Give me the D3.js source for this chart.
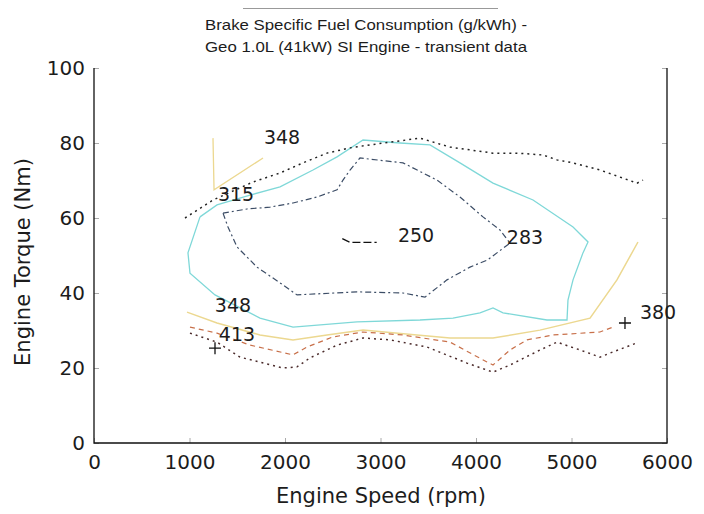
<!DOCTYPE html>
<html><head><meta charset="utf-8">
<script src="https://cdn.jsdelivr.net/npm/d3@7"></script>
<style>body{margin:0;background:#fff}svg{display:block}</style>
</head><body><svg id="c" width="704" height="514"></svg>
<script>
// ---- data (rpm, Nm) ----
const titleLines = ["Brake Specific Fuel Consumption (g/kWh) -", "Geo 1.0L (41kW) SI Engine - transient data"];
const xTicks = [0, 1000, 2000, 3000, 4000, 5000, 6000];
const yTicks = [0, 20, 40, 60, 80, 100];
const c250 = [[2600,54.5],[2680,53.5],[2960,53.5]];
const c283 = [[1351,61.3],[1403,57.6],[1497,52.3],[1707,46.9],[1948,42.7],[2126,39.5],[2754,40.3],[3236,40],[3466,38.9],[3696,43.5],[3937,46.9],[4120,48.8],[4356,53.3],[4251,56.8],[4073,60.3],[3832,65.6],[3592,70.1],[3236,74.7],[2785,76],[2681,72.8],[2607,70.1],[2545,67.5],[2335,65.6],[2084,64],[1843,62.9],[1602,62.4],[1351,61.3]];
const c315 = [[1110,60.3],[984,50.7],[1005,45.3],[1267,39.5],[1738,33.3],[2084,30.9],[2754,32.3],[3414,32.8],[3759,33.3],[4042,34.7],[4178,36],[4283,34.7],[4743,32.8],[4953,32.8],[4963,38.1],[5016,43.5],[5120,50.7],[5173,53.6],[5016,57.6],[4597,64.8],[4178,69.3],[3832,74.7],[3518,79.5],[3204,80],[2817,80.8],[2545,76.3],[2293,72.8],[1948,68.3],[1634,66.1],[1288,63.5],[1110,60.3]];
const cTop = [[953,60],[1246,64.8],[1665,69.6],[1948,72],[2188,74.7],[2440,77.3],[2681,78.7],[2890,79.5],[3414,81.3],[3728,78.9],[4178,77.3],[4429,77.3],[4702,76.8],[4848,75.5],[5016,74.7],[5298,72.8],[5686,69.3],[5749,70.1]];
const c348a = [[1246,81.3],[1257,67.5],[1770,76]];
const c348b = [[974,34.9],[1288,32],[1738,28.8],[2084,27.5],[2440,28.8],[2817,30.1],[3382,28.8],[3728,28],[4178,28],[4670,30.1],[5194,33.3],[5476,43.5],[5696,53.6]];
const c380 = [[1005,30.9],[1288,29.3],[1634,26.1],[2084,23.5],[2230,25.6],[2503,28.3],[2817,29.6],[3236,28.8],[3728,26.9],[4115,21.6],[4178,20.8],[4356,24.8],[4534,27.5],[4806,28.8],[5298,29.6],[5435,30.9]];
const c413 = [[1005,29.3],[1288,26.9],[1529,22.9],[1979,20],[2126,20.3],[2262,22.7],[2545,26.1],[2817,28],[3100,27.5],[3487,25.6],[3906,21.3],[4178,18.9],[4356,20.8],[4670,24.8],[4848,26.9],[5089,24.8],[5298,22.9],[5435,24.3],[5686,26.7]];
const labelText = ["348", "315", "250", "283", "348", "413", "380"];
const labelRpm  = [1969, 1487, 3372, 4513, 1455, 1497, 5906];
const labelNm   = [81.6, 66.4, 55.5, 54.9, 36.8, 29.1, 34.9];
const markerRpm = [5560, 1267];
const markerNm  = [32, 25.3];

// ---- drawing ----
const svg = d3.select("#c");
const x = d3.scaleLinear().domain([0, 6000]).range([94, 667]);
const y = d3.scaleLinear().domain([0, 100]).range([443, 68]);
const font = "'DejaVu Sans', sans-serif";
const ink = "#1c1c1c";

svg.append("line").attr("x1",243).attr("x2",498).attr("y1",8.5).attr("y2",8.5).attr("stroke","#999").attr("stroke-width",1.2);
svg.selectAll("text.title").data(titleLines).join("text").attr("class","title")
  .attr("x",366).attr("y",(d,i)=>30+i*22).attr("text-anchor","middle")
  .attr("textLength",322).attr("lengthAdjust","spacingAndGlyphs")
  .attr("font-family","'Liberation Sans', Arial, sans-serif").attr("font-size",15).attr("fill",ink).text(d=>d);

// axes
const gx = svg.append("g").attr("transform","translate(0,443)")
  .call(d3.axisBottom(x).tickValues(xTicks).tickSize(-5).tickPadding(12).tickFormat(d3.format("d")));
const gy = svg.append("g").attr("transform","translate(94,0)")
  .call(d3.axisLeft(y).tickValues(yTicks).tickSize(-5).tickPadding(9).tickFormat(d3.format("d")));
const gr = svg.append("g").attr("transform","translate(667,0)")
  .call(d3.axisRight(y).tickValues(yTicks).tickSize(-5).tickFormat(""));
[gx,gy,gr].forEach(g=>{
  g.select(".domain").remove();
  g.selectAll(".tick line").attr("stroke","#aaa");
  g.selectAll("text").attr("font-family",font).attr("font-size",20).attr("fill",ink);
});
svg.append("path").attr("d",`M94,68V443H667V68`).attr("fill","none").attr("stroke","#111").attr("stroke-width",1.3);

svg.append("text").attr("x",381).attr("y",503).attr("text-anchor","middle")
  .attr("font-family",font).attr("font-size",21).attr("fill",ink).text("Engine Speed (rpm)");
svg.append("text").attr("transform","translate(30,262) rotate(-90)").attr("text-anchor","middle")
  .attr("font-family",font).attr("font-size",21).attr("fill",ink).text("Engine Torque (Nm)");

const line = d3.line().x(d=>x(d[0])).y(d=>y(d[1]));
const draw = (data, color, dash, w) => svg.append("path").datum(data).attr("d",line)
  .attr("fill","none").attr("stroke",color).attr("stroke-width",w||1.2).attr("stroke-dasharray",dash);

draw(c315, "#7fd8d8", null, 1.3);
draw(c348a, "#ecd890", null, 1.3);
draw(c348b, "#ecd890", null, 1.5);
draw(c380, "#c8704a", "5,4", 1.2);
draw(c413, "#4a2a2a", "2,4", 1.5);
draw(cTop, "#222", "2,4", 1.5);
draw(c283, "#3c4d66", "6,3,2,3", 1.2);
draw(c250, "#111", "8,3", 1.3);

svg.selectAll("text.clab").data(labelText).join("text").attr("class","clab")
  .attr("x",(d,i)=>x(labelRpm[i])).attr("y",(d,i)=>y(labelNm[i])+7).attr("text-anchor","middle")
  .attr("font-family",font).attr("font-size",19).attr("fill",ink).text(d=>d);
svg.selectAll("path.mk").data(markerRpm).join("path").attr("class","mk")
  .attr("d",(d,i)=>{const px=x(d), py=y(markerNm[i]); return `M${px-6},${py}H${px+6}M${px},${py-6}V${py+6}`;})
  .attr("stroke","#111").attr("stroke-width",1.3);
</script></body></html>
